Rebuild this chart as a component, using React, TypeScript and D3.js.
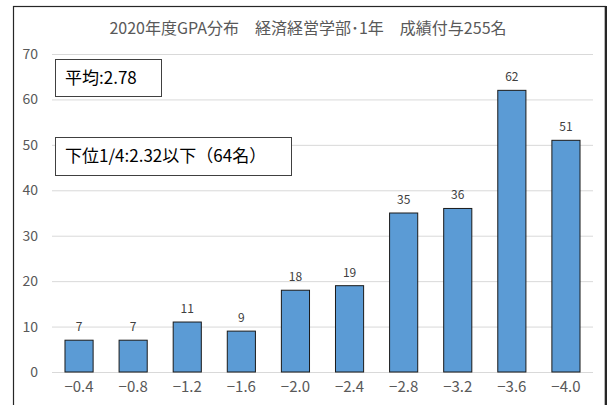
import { useEffect, useRef } from 'react'
import * as d3 from 'd3'

const categories = ['−0.4', '−0.8', '−1.2', '−1.6', '−2.0', '−2.4', '−2.8', '−3.2', '−3.6', '−4.0']
const counts = [7, 7, 11, 9, 18, 19, 35, 36, 62, 51]
const yTicks = [0, 10, 20, 30, 40, 50, 60, 70]
const title = '2020年度GPA分布　経済経営学部･1年　成績付与255名'
const notes = ['平均:2.78', '下位1/4:2.32以下（64名）']

const W = 607
const H = 405
const font = '"Liberation Sans Narrow", "Noto Sans CJK JP", sans-serif'
const jpFont = '"Noto Sans CJK JP", sans-serif'

export default function App() {
  const svgRef = useRef<SVGSVGElement>(null)

  useEffect(() => {
    const svg = d3.select(svgRef.current)
    svg.selectAll('*').remove()

    const margin = { top: 54, right: 14, bottom: 33, left: 52 }
    const innerW = W - margin.left - margin.right
    const innerH = H - margin.top - margin.bottom

    const x = d3.scaleBand().domain(categories).range([0, innerW]).paddingInner(0.48).paddingOuter(0.24)
    const y = d3.scaleLinear().domain([0, 70]).range([innerH, 0])

    // Frame
    svg.append('rect')
      .attr('x', 13.5).attr('y', 6.5).attr('width', 592).attr('height', 410)
      .attr('fill', '#fff').attr('stroke', '#262626').attr('stroke-width', 1.2)
    svg.append('line')
      .attr('x1', 606).attr('x2', 606).attr('y1', 6).attr('y2', H)
      .attr('stroke', '#262626').attr('stroke-width', 2.5)

    svg.append('text')
      .attr('x', 308).attr('y', 34)
      .attr('text-anchor', 'middle')
      .style('font-family', jpFont).style('font-size', '16px').style('fill', '#595959')
      .text(title)

    const g = svg.append('g').attr('transform', `translate(${margin.left},${margin.top})`)

    // Gridlines
    g.append('g')
      .selectAll('line')
      .data(yTicks)
      .join('line')
      .attr('x1', 0).attr('x2', innerW)
      .attr('y1', d => y(d) + 0.5).attr('y2', d => y(d) + 0.5)
      .style('stroke', '#d9d9d9').style('stroke-width', 1)

    // Y axis labels
    const yAxisG = g.append('g')
    yAxisG.call(d3.axisLeft(y).tickValues(yTicks).tickSize(0).tickPadding(14))
    yAxisG.select('.domain').remove()
    yAxisG.selectAll('text')
      .style('fill', '#595959').style('font-size', '14px').style('font-family', font)

    // X axis labels
    const xAxisG = g.append('g').attr('transform', `translate(0,${innerH})`)
    xAxisG.call(d3.axisBottom(x).tickSize(0).tickPadding(9))
    xAxisG.select('.domain').remove()
    xAxisG.selectAll('text')
      .style('fill', '#595959').style('font-size', '15px').style('font-family', font)

    // Bars
    g.selectAll('rect.bar')
      .data(counts)
      .join('rect')
      .attr('class', 'bar')
      .attr('x', (_, i) => x(categories[i])!)
      .attr('y', d => y(d))
      .attr('width', x.bandwidth())
      .attr('height', d => innerH - y(d))
      .style('fill', '#5b9bd5')
      .style('stroke', '#1a1a1a')
      .style('stroke-width', 1)

    // Value labels
    g.selectAll('text.val')
      .data(counts)
      .join('text')
      .attr('class', 'val')
      .attr('x', (_, i) => x(categories[i])! + x.bandwidth() / 2)
      .attr('y', d => y(d) - 9)
      .attr('text-anchor', 'middle')
      .style('fill', '#404040').style('font-size', '12px').style('font-family', font)
      .text(d => d)

    // Annotation boxes
    const boxes = [
      { x: 55, y: 59, w: 106, h: 37 },
      { x: 55, y: 137, w: 236, h: 38 },
    ]
    boxes.forEach((b, i) => {
      svg.append('rect')
        .attr('x', b.x + 0.5).attr('y', b.y + 0.5).attr('width', b.w).attr('height', b.h)
        .attr('fill', '#fff').attr('stroke', '#404040').attr('stroke-width', 1)
      svg.append('text')
        .attr('x', b.x + 10).attr('y', b.y + b.h / 2 + 6)
        .style('font-family', jpFont).style('font-size', '17px').style('fill', '#000')
        .text(notes[i])
    })
  }, [])

  return (
    <svg ref={svgRef} width={W} height={H} style={{ position: 'absolute', left: 0, top: 0, background: '#fff' }} />
  )
}
